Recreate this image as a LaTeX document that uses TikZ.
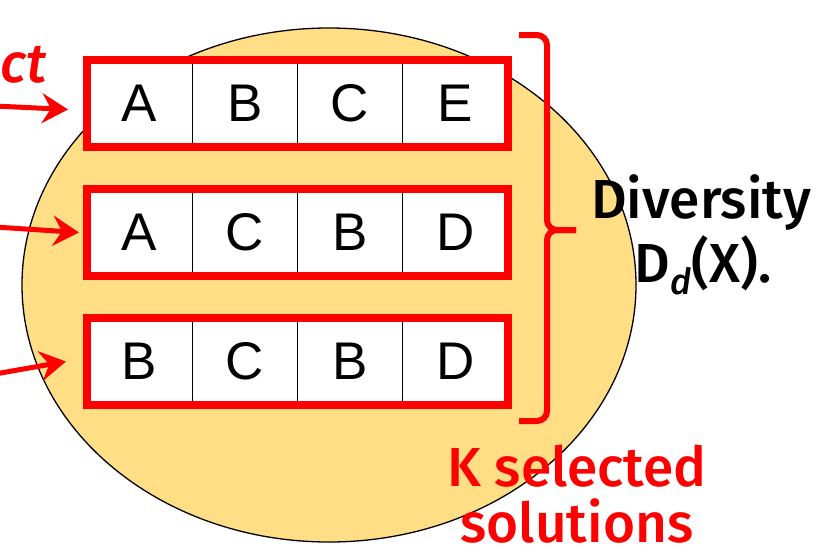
\documentclass[tikz,border=0pt]{standalone}
\usepackage{fontspec}
\setmainfont{Liberation Sans}
\newfontfamily\handfont{Fira Sans}[UprightFont={* Medium}, ItalicFont={* Medium Italic}]
\usepackage{xcolor}
\usetikzlibrary{arrows.meta,positioning,fit}
\definecolor{pool}{HTML}{FFDE85}
\definecolor{hred}{HTML}{FF0000}

\begin{document}
\begin{tikzpicture}[x=1pt, y=-1pt,
  cell/.style={draw=black, line width=1.2pt, fill=white, outer sep=0pt, inner sep=0pt,
    minimum width=105.25pt, minimum height=87pt, font=\fontsize{53}{53}\selectfont},
  row/.style={draw=hred, line width=8pt, inner sep=0pt},
  arr/.style={draw=hred, line width=5pt, -{Stealth[length=26pt, width=30pt, inset=9pt]}},
  hand/.style={font=\handfont\fontsize{55}{55}\selectfont},
  brace/.style={draw=hred, line width=6pt, rounded corners=10pt}
]
\useasboundingbox (0,0) rectangle (817,555);
\clip (0,0) rectangle (817,555);

% the pool of solutions
\fill[pool] (329,285) ellipse [x radius=307, y radius=257];
\draw[line width=1.3pt] (329,285) ellipse [x radius=307, y radius=257];

% three selected strings
\node[cell] (a1) at (139.6,103.5) {A};
\node[cell, right=0pt of a1] (a2) {B};
\node[cell, right=0pt of a2] (a3) {C};
\node[cell, right=0pt of a3] (a4) {E};
\node[cell, below=42pt of a1] (b1) {A};
\node[cell, right=0pt of b1] (b2) {C};
\node[cell, right=0pt of b2] (b3) {B};
\node[cell, right=0pt of b3] (b4) {D};
\node[cell, below=42pt of b1] (c1) {B};
\node[cell, right=0pt of c1] (c2) {C};
\node[cell, right=0pt of c2] (c3) {B};
\node[cell, right=0pt of c3] (c4) {D};
\node[row, fit=(a1)(a4)] (rowa) {};
\node[row, fit=(b1)(b4)] (rowb) {};
\node[row, fit=(c1)(c4)] (rowc) {};

% incoming picks
\node[text=hred, anchor=base east, font=\handfont\itshape\fontsize{55}{55}\selectfont] (sel) at (50,82) {ct};
\coordinate (ina) at (-5,106);
\coordinate (inb) at (-5,227);
\coordinate (inc) at (-5,374);
\draw[arr] (ina) -- ([xshift=-15pt,yshift=-6pt]rowa.west);
\draw[arr] (inb) -- ([xshift=-4pt]rowb.west);
\draw[arr] (inc) -- ([xshift=-17pt]rowc.west);

% brace over the K strings
\draw[brace] (519,35) -- (547,35) -- (547,230) -- (576,230);
\draw[brace] (576,230) -- (547,230) -- (547,421) -- (519,421);

\node[hand, anchor=base] (div) at (701,218) {Diversity};
\node[hand, anchor=base] (dd) at (703,282)
  {D\raisebox{-0.22em}{\fontsize{36}{36}\selectfont\itshape d}(X).};
\node[hand, text=hred, anchor=base] (ksel) at (577,486) {K selected};
\node[hand, text=hred, anchor=base] (sols) at (577,542) {solutions};
\end{tikzpicture}
\end{document}
